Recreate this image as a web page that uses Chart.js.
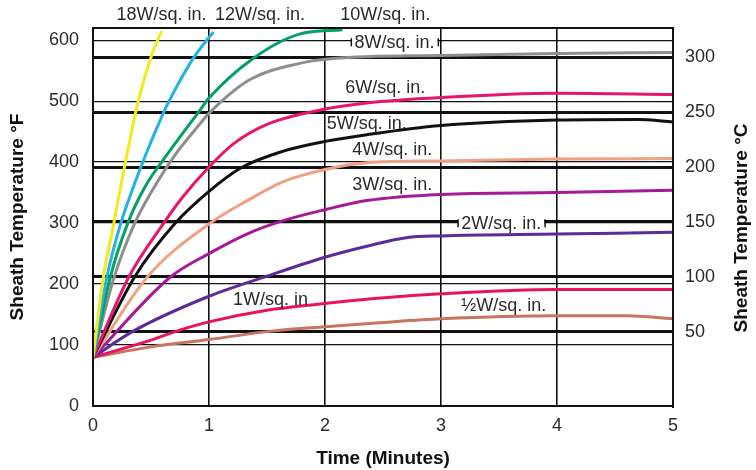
<!DOCTYPE html>
<html>
<head>
<meta charset="utf-8">
<script src="https://cdn.jsdelivr.net/npm/chart.js@4"></script>
<style>
    html, body { margin: 0; padding: 0; background: #fff; }
    #wrap { width: 756px; height: 470px; }
</style>
</head>
<body>
<div id="wrap"><canvas id="chart" width="756" height="470"></canvas></div>
<script>
// Curves: [minutes, sheath temperature in deg F]
const w18 = [[0, 80], [0.09, 212], [0.18, 300], [0.22, 342], [0.28, 400], [0.39, 500], [0.5, 572], [0.59, 615]];
const w12 = [[0, 80], [0.12, 212], [0.24, 300], [0.34, 355], [0.45, 410], [0.61, 482], [0.65, 498], [0.85, 566], [0.98, 600], [1.04, 613]];
const w10 = [[0, 80], [0.15, 212], [0.3, 300], [0.45, 360], [0.61, 405], [0.91, 482], [1.0, 505], [1.38, 570], [1.78, 610], [2.15, 617]];
const w8 = [[0, 80], [0.18, 210], [0.36, 300], [0.5, 350], [0.7, 410], [0.91, 460], [1.0, 480], [1.35, 535], [1.78, 562], [2.07, 570], [3, 575], [4, 578], [5, 580]];
const w6 = [[0, 80], [0.31, 212], [0.61, 300], [0.77, 342], [1.0, 392], [1.21, 430], [1.5, 462], [2, 487], [2.36, 497], [3, 506], [4, 513], [5, 511]];
const w5 = [[0, 80], [0.36, 212], [0.71, 300], [1.0, 352], [1.27, 390], [1.64, 418], [2, 434], [2.36, 445], [3, 460], [4, 469], [4.7, 470], [5, 466]];
const w4 = [[0, 80], [0.47, 212], [1.01, 300], [1.35, 339], [1.64, 368], [2, 388], [2.36, 399], [3, 402], [4, 405], [5, 406]];
const w3 = [[0, 80], [0.67, 212], [1.0, 250], [1.35, 284], [1.64, 304], [2, 322], [2.36, 337], [3, 347], [4, 350], [5, 354]];
const w2 = [[0, 80], [0.34, 122], [1.0, 180], [1.5, 213], [2, 244], [2.36, 262], [2.7, 276], [3, 279], [4, 282], [5, 285]];
const w1 = [[0, 80], [0.5, 108], [0.74, 124], [1.0, 138], [1.5, 157], [2, 168], [2.4, 176], [3, 184], [4, 191], [5, 191]];
const wHalf = [[0, 80], [0.5, 97], [1.0, 109], [1.5, 122], [2, 130], [2.5, 137], [3, 143], [4, 148], [4.6, 148], [5, 143]];

const seriesNames = ['18W/sq. in.', '12W/sq. in.', '10W/sq. in.', '8W/sq. in.', '6W/sq. in.', '5W/sq. in.',
    '4W/sq. in.', '3W/sq. in.', '2W/sq. in.', '1W/sq. in', '\u00BDW/sq. in.'];
const seriesData = [w18, w12, w10, w8, w6, w5, w4, w3, w2, w1, wHalf];

const xTicks = [0, 1, 2, 3, 4, 5];
const fTicks = [0, 100, 200, 300, 400, 500, 600];
const cTicks = [50, 100, 150, 200, 250, 300];
const fMax = 620;

// styling kept apart from the values
const colors = ['#f4ea1c', '#22b2e6', '#03a163', '#8e8e8e', '#e6166c', '#111111',
    '#f0a184', '#a5199b', '#5b2c98', '#e8145c', '#c57560'];

// where each curve name sits, in chart units (minutes, deg F)
const labelSpots = [
    { t: 0.59, f: 641 }, { t: 1.44, f: 641 }, { t: 2.52, f: 641 }, { t: 2.6, f: 595, bg: true },
    { t: 2.52, f: 522 }, { t: 2.36, f: 463 }, { t: 2.58, f: 420 }, { t: 2.58, f: 362 },
    { t: 3.52, f: 298, bg: true }, { t: 1.53, f: 174 }, { t: 3.54, f: 164 }
];

const toC = f => (f - 32) / 1.8;
const textColor = '#2a2a2a';
const lineColor = '#111';
const fontFamily = '"Liberation Sans", Arial, sans-serif';

const frame = {
    id: 'frame',
    afterDatasetsDraw(chart) {
        const { ctx, chartArea: a, scales } = chart;
        ctx.save();
        ctx.strokeStyle = lineColor;
        ctx.lineWidth = 2;
        ctx.strokeRect(a.left, a.top, a.right - a.left, a.bottom - a.top);

        ctx.font = '18px ' + fontFamily;
        ctx.textAlign = 'center';
        ctx.textBaseline = 'middle';
        labelSpots.forEach((spot, i) => {
            const x = scales.x.getPixelForValue(spot.t);
            const y = scales.y.getPixelForValue(spot.f);
            const text = seriesNames[i];
            const w = ctx.measureText(text).width;
            if (spot.bg) {
                ctx.fillStyle = '#fff';
                ctx.fillRect(x - w / 2 - 3, y - 8, w + 6, 15);
                ctx.fillStyle = lineColor;
                ctx.fillRect(x - w / 2 - 4, y - 5, 1.5, 8);
                ctx.fillRect(x + w / 2 + 3, y - 5, 1.5, 8);
            }
            ctx.fillStyle = textColor;
            ctx.fillText(text, x, y);
        });

        // right-hand title reads bottom to top, like the left one
        const r = scales.y2;
        ctx.translate(r.right - 14, (a.top + a.bottom) / 2 + 11);
        ctx.rotate(-Math.PI / 2);
        ctx.font = 'bold 19px ' + fontFamily;
        ctx.fillStyle = '#111';
        ctx.fillText('Sheath Temperature \u00B0C', 0, 0);
        ctx.restore();
    }
};

const tickFont = { family: fontFamily, size: 18 };
const titleFont = { family: fontFamily, size: 19, weight: 'bold' };

new Chart(document.getElementById('chart').getContext('2d'), {
    type: 'line',
    data: {
        datasets: seriesData.map((pts, i) => ({
            label: seriesNames[i],
            data: pts.map(p => ({ x: p[0], y: p[1] })),
            borderColor: colors[i],
            borderWidth: 3,
            pointRadius: 0,
            fill: false,
            cubicInterpolationMode: 'monotone',
            yAxisID: 'y'
        }))
    },
    options: {
        responsive: false,
        animation: false,
        devicePixelRatio: 1,
        layout: { padding: { top: 28, left: 0, right: 0, bottom: 0 } },
        plugins: {
            legend: { display: false },
            tooltip: { enabled: false }
        },
        scales: {
            x: {
                type: 'linear',
                min: 0,
                max: 5,
                afterBuildTicks: s => { s.ticks = xTicks.map(v => ({ value: v })); },
                afterFit: s => { s.height = 64; },
                grid: { color: lineColor, lineWidth: 1.6, drawTicks: false },
                border: { color: lineColor, width: 2 },
                ticks: { color: textColor, font: tickFont, padding: 9 },
                title: { display: true, text: 'Time (Minutes)', color: '#111', font: titleFont, padding: { top: 2, bottom: 0 } }
            },
            y: {
                position: 'left',
                min: 0,
                max: fMax,
                afterBuildTicks: s => { s.ticks = fTicks.map(v => ({ value: v })); },
                afterFit: s => { s.width = 93; },
                grid: { color: lineColor, lineWidth: 1.3, drawTicks: false },
                border: { color: lineColor, width: 2 },
                ticks: { color: textColor, font: tickFont, padding: 14 },
                title: { display: true, text: 'Sheath Temperature \u00B0F', color: '#111', font: titleFont, padding: { top: 6, bottom: 0 } }
            },
            y2: {
                position: 'right',
                min: toC(0),
                max: toC(fMax),
                afterBuildTicks: s => { s.ticks = cTicks.map(v => ({ value: v })); },
                afterFit: s => { s.width = 83; },
                grid: { color: lineColor, lineWidth: 3, drawTicks: false },
                border: { color: lineColor, width: 2 },
                ticks: { color: textColor, font: tickFont, padding: 12 },
                title: { display: false }
            }
        }
    },
    plugins: [frame]
});
</script>
</body>
</html>
